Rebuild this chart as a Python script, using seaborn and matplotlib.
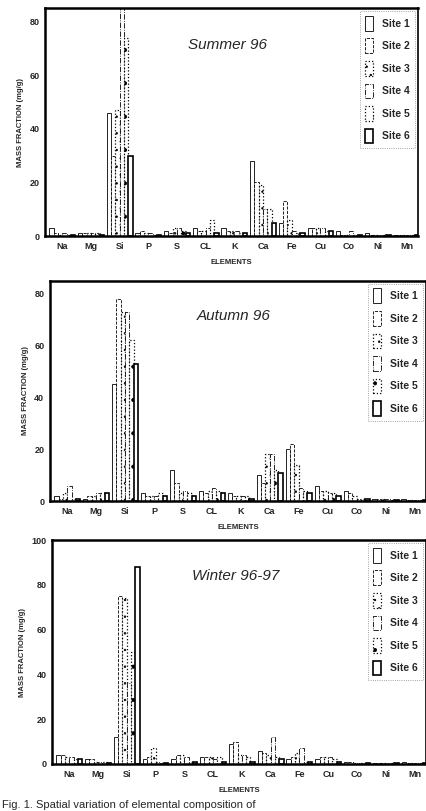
import numpy as np
import pandas as pd
import matplotlib
matplotlib.use("Agg")
import matplotlib.pyplot as plt
import seaborn as sns

# --- data (mg/g) -------------------------------------------------------------
elements = ["Na", "Mg", "Si", "P", "S", "CL", "K", "Ca", "Fe", "Cu", "Co", "Ni", "Mn"]
sites = ["Site 1", "Site 2", "Site 3", "Site 4", "Site 5", "Site 6"]

# rows = elements, columns = sites 1..6
summer = [
    [3, 1, 0.5, 1, 0.5, 0.5],
    [1, 1, 1, 1, 1, 0.5],
    [46, 30, 47, 86, 74, 30],
    [1, 2, 1, 1, 0.5, 0.5],
    [2, 1, 3, 3, 2, 1],
    [3, 2, 2, 3, 6, 1],
    [3, 2, 2, 2, 1, 1],
    [28, 20, 19, 10, 10, 5],
    [5, 13, 6, 2, 1, 1],
    [3, 3, 3, 3, 2, 2],
    [2, 0.5, 0.3, 2, 0.3, 0.3],
    [1, 0.5, 0.3, 0.3, 0.3, 0.3],
    [0.5, 0.3, 0.3, 0.3, 0.3, 0.3],
]
autumn = [
    [2, 1, 3, 6, 1, 1],
    [1, 2, 2, 3, 3, 3],
    [45, 78, 73, 73, 62, 53],
    [3, 2, 2, 2, 3, 2],
    [12, 7, 3, 4, 3, 2],
    [4, 3, 4, 5, 4, 3],
    [3, 2, 2, 2, 2, 1],
    [10, 7, 18, 18, 12, 11],
    [20, 22, 14, 5, 4, 3],
    [6, 4, 4, 3, 3, 2],
    [4, 3, 2, 1, 1, 1],
    [1, 1, 1, 1, 0.5, 0.5],
    [1, 0.5, 0.5, 0.5, 0.5, 0.5],
]
winter = [
    [4, 4, 3, 3, 2, 2],
    [2, 2, 1, 1, 1, 0.5],
    [12, 75, 74, 36, 50, 88],
    [2, 3, 7, 1, 0.5, 0.5],
    [2, 4, 4, 3, 1, 1],
    [3, 3, 3, 2, 3, 1],
    [9, 10, 4, 4, 3, 1],
    [6, 5, 4, 12, 3, 2],
    [2, 3, 5, 7, 1, 1],
    [2, 3, 3, 3, 2, 1],
    [1, 1, 0.5, 0.3, 0.3, 0.3],
    [0.5, 0.5, 0.3, 0.3, 0.3, 0.3],
    [1, 0.5, 0.5, 0.3, 0.3, 0.3],
]

seasons = ["Summer 96", "Autumn 96", "Winter 96-97"]
ymax = [85, 85, 100]
yticks = [[0, 20, 40, 60, 80], [0, 20, 40, 60, 80], [0, 20, 40, 60, 80, 100]]

# --- styling ------------------------------------------------------------------
sns.set_theme(style="white")
plt.rcParams["font.family"] = ["Liberation Sans", "DejaVu Sans"]
plt.rcParams["hatch.linewidth"] = 0.5

site_ls = ["-", "--", ":", "-.", ":", "-"]
site_lw = [0.6, 0.6, 0.9, 0.6, 0.9, 1.2]
site_hatch = [None, None, "..", None, ". ", None]

# axes boxes in figure fraction (left, bottom, width, height)
boxes = [
    [0.106, 0.709, 0.875, 0.281],
    [0.117, 0.382, 0.883, 0.272],
    [0.122, 0.058, 0.878, 0.276],
]

fig = plt.figure(figsize=(4.26, 8.11), dpi=100)

for data, name, top, ticks, box in zip([summer, autumn, winter], seasons, ymax, yticks, boxes):
    df = pd.DataFrame(data, index=elements, columns=sites)
    long = df.reset_index(names="element").melt(id_vars="element", var_name="site",
                                                 value_name="value")
    ax = fig.add_axes(box)
    sns.barplot(data=long, x="element", y="value", hue="site", order=elements,
                hue_order=sites, width=0.9, legend=False, ax=ax, errorbar=None)
    for i, cont in enumerate(ax.containers):
        cont.set_label(sites[i])
        for p in cont:
            p.set_facecolor("white")
            p.set_edgecolor("black")
            p.set_linestyle(site_ls[i])
            p.set_linewidth(site_lw[i])
            if site_hatch[i]:
                p.set_hatch(site_hatch[i])

    ax.set_xlim(-0.6, 12.4)
    ax.set_ylim(0, top)
    ax.set_yticks(ticks)
    ax.tick_params(axis="both", length=0, labelsize=6.5, pad=4)
    for lab in ax.get_xticklabels() + ax.get_yticklabels():
        lab.set_fontweight("bold")
    ax.set_xlabel("ELEMENTS", fontsize=5.5, fontweight="bold", labelpad=6)
    ax.set_ylabel("MASS FRACTION (mg/g)", fontsize=5.5, fontweight="bold", labelpad=4)
    for side, sp in ax.spines.items():
        sp.set_visible(True)
        sp.set_color("black")
        sp.set_linewidth(1.8 if side in ("left", "top", "bottom") else 1.2)

    ax.text(0.49, 0.84, name, transform=ax.transAxes, ha="center", va="center",
            fontsize=11, fontstyle="italic")
    leg = ax.legend(loc="upper right", fontsize=7.5, frameon=True, fancybox=False,
                    handlelength=0.8, handleheight=1.8, labelspacing=0.75,
                    handletextpad=0.9, borderpad=0.45, borderaxespad=0.3)
    leg.get_frame().set_edgecolor("0.4")
    leg.get_frame().set_linestyle(":")
    leg.get_frame().set_linewidth(0.6)
    for t in leg.get_texts():
        t.set_fontweight("bold")

fig.text(0.005, 0.001, "Fig. 1. Spatial variation of elemental composition of",
         fontsize=8, ha="left", va="bottom")

fig.savefig("out.png", dpi=100, facecolor="white")
